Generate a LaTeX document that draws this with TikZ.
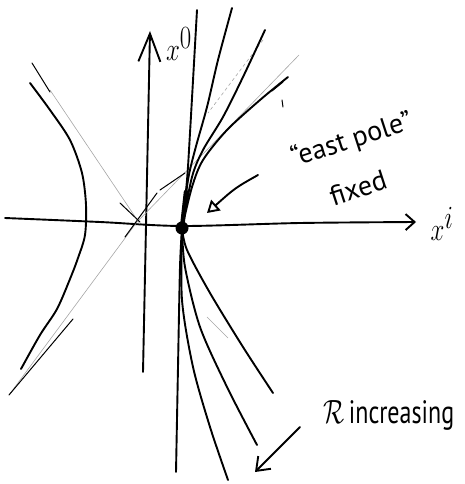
\documentclass[tikz,border=0pt]{standalone}
\usepackage{fontspec}
\setmainfont{PT Sans}
\usepackage{graphicx}
\usetikzlibrary{arrows.meta}
\begin{document}
\begin{tikzpicture}[x=1pt,y=-1pt,
  ink/.style={line width=1.9pt, line cap=round, line join=round},
  thinink/.style={line width=1pt, line cap=round},
  faint/.style={line width=0.6pt, black!35, line cap=round},
  lbl/.style={inner sep=0pt, font=\fontsize{28}{28}\selectfont}]
\useasboundingbox (0,0) rectangle (464,484);
% axes
\coordinate (xs) at (5,218);
\coordinate (xe) at (416,222);
\coordinate (ys) at (143,372);
\coordinate (ye) at (150,31);
\draw[ink, -{Straight Barb[length=9pt,width=16pt]}] plot[smooth] coordinates {(xs) (100,222) (182,226) (300,223) (xe)};
\draw[ink, -{Straight Barb[length=28pt,width=22pt]}] (ys) -- (ye);
\node[inner sep=0pt] (xi) at (442,224) {\fontsize{34}{34}\selectfont\scalebox{1}[1.3]{$x^{i}$}};
\node[inner sep=0pt] (x0) at (179,44) {\fontsize{34}{34}\selectfont\scalebox{1}[1.3]{$x^{0}$}};
% fixed point
\node[circle, fill=black, inner sep=0pt, minimum size=13pt] (D) at (182,228) {};
\draw[line width=4.5pt, line cap=round] (D.center) -- (186,192);
% light cone lines
\draw[faint] (299,55) -- (137,222) -- (9,395);
\draw[thinink] (125,237) -- (157,193);
\draw[thinink] (160,190) -- (185,173);
\draw[thinink] (73,319) -- (9,395);
\draw[faint] (50,90) -- (140,224);
\draw[thinink] (120,203) -- (140,222);
\draw[faint] (207,317) -- (228,338);
\draw[faint, dashed] (263,40) -- (208,113);
% left hyperbola
\draw[ink] plot[smooth] coordinates {(30,83) (50,110) (70,140) (82,173) (86,205) (85,235) (78,258) (70,279) (57,309) (40,335) (21,369)};
\draw[thinink] (32,63) -- (50,92);
% upper curves
\draw[ink] plot[smooth] coordinates {(D.center) (187,180) (190,133) (197,10)};
\draw[ink] plot[smooth] coordinates {(D.center) (188,180) (195,150) (207,107) (218,60) (232,8)};
\draw[ink] plot[smooth] coordinates {(D.center) (192,177) (203,150) (223,117) (243,77) (265,30)};
\draw[ink] plot[smooth] coordinates {(D.center) (192,187) (203,160) (227,130) (260,100) (288,77)};
\draw[thinink] (272,91) -- (283,82);
\draw[thinink] (282,100) -- (283,107);
% lower curves
\draw[ink] plot[smooth] coordinates {(D.center) (180,267) (178,367) (176,472)};
\draw[ink] plot[smooth] coordinates {(D.center) (182,300) (193,367) (210,427) (228,480)};
\draw[ink] plot[smooth] coordinates {(D.center) (185,267) (200,327) (227,387) (257,445)};
\draw[ink] plot[smooth] coordinates {(D.center) (187,250) (210,293) (243,347) (273,393)};
% labels
\node[lbl, rotate=18] (ep) at (352,140) {``east pole''};
\node[lbl, rotate=18] (fx) at (358,188) {fixed};
\node[lbl, anchor=base, font=\fontsize{24}{24}\selectfont] (ri) at (389,423) {\scalebox{1}[1.35]{$\mathcal{R}$\,increasing}};
% arrows
\coordinate (a1s) at (258,175);
\coordinate (a1e) at (207,213);
\draw[ink, -{Triangle[open,length=12pt,width=14pt]}] (a1s) .. controls (235,188) .. (a1e);
\coordinate (a2s) at (300,427);
\coordinate (a2e) at (255,472);
\draw[ink, -{Straight Barb[length=12pt,width=18pt]}] (a2s) -- (a2e);
\end{tikzpicture}
\end{document}
